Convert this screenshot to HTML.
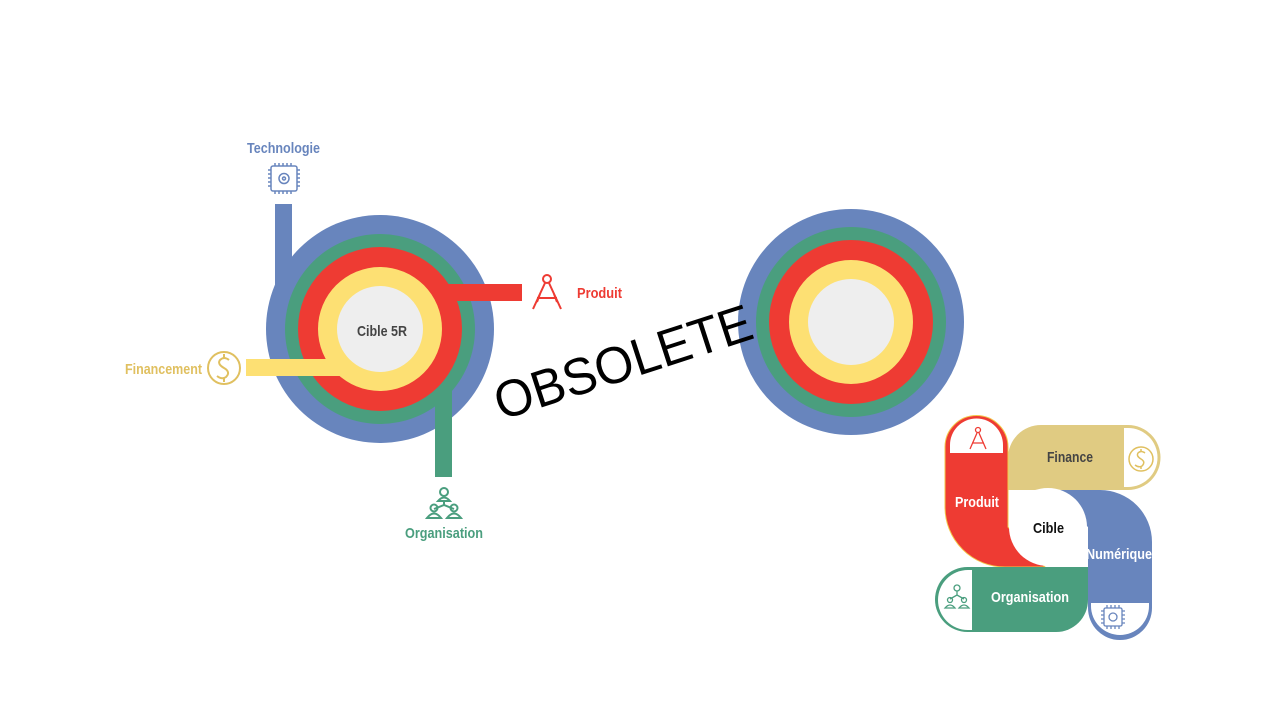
<!DOCTYPE html>
<html><head><meta charset="utf-8"><style>
html,body{margin:0;padding:0;background:#fff;}
svg{display:block;font-family:"Liberation Sans",sans-serif;}
.lbl{font-family:"Liberation Sans",sans-serif;font-weight:bold;font-size:15px;}
</style></head><body>
<svg width="1279" height="719" viewBox="0 0 1279 719">
<g>
  <circle cx="380" cy="329" r="114" fill="#6885bd"/>
  <rect x="275" y="204" width="17" height="90" fill="#6885bd"/>
  <circle cx="380" cy="329" r="95" fill="#4a9e7e"/>
  <rect x="435" y="380" width="17" height="97" fill="#4a9e7e"/>
  <circle cx="380" cy="329" r="82" fill="#ee3b33"/>
  <rect x="443" y="284" width="79" height="17" fill="#ee3b33"/>
  <circle cx="380" cy="329" r="62" fill="#fde073"/>
  <rect x="246" y="359" width="100" height="17" fill="#fde073"/>
  <circle cx="380" cy="329" r="43" fill="#eeeeee"/>
  <text x="357" y="336" textLength="50" lengthAdjust="spacingAndGlyphs" class="lbl" fill="#444">Cible 5R</text>

  <text x="247" y="153" textLength="73" lengthAdjust="spacingAndGlyphs" class="lbl" fill="#6885bd">Technologie</text>
  <g stroke="#6885bd" stroke-width="1.5" fill="none">
    <rect x="271" y="166" width="26" height="25" rx="2"/>
    <circle cx="284" cy="178.5" r="5"/><circle cx="284" cy="178.5" r="1.5"/>
    <path d="M275 163v3M279 163v3M283 163v3M287 163v3M291 163v3M275 191v3M279 191v3M283 191v3M287 191v3M291 191v3M268 170h3M268 174h3M268 178h3M268 182h3M268 186h3M297 170h3M297 174h3M297 178h3M297 182h3M297 186h3"/>
  </g>
  <g stroke="#ee3b33" stroke-width="2" fill="none">
    <circle cx="547" cy="279" r="4"/>
    <path d="M545 283l-12 26M549 283l12 26M537 298h20M540 294l-3 8M554 294l3 8"/>
  </g>
  <text x="577" y="298" textLength="45" lengthAdjust="spacingAndGlyphs" class="lbl" fill="#ee3b33">Produit</text>
  <text x="125" y="374" textLength="77" lengthAdjust="spacingAndGlyphs" class="lbl" fill="#e0c060">Financement</text>
  <g stroke="#e0c060" stroke-width="2" fill="none">
    <circle cx="224" cy="368" r="16"/>
    <path d="M229 360q-5-4-9 0q-3 4 4 8q7 4 2 9q-4 3-9-1M224 354v4M224 378v4"/>
  </g>
  <g stroke="#4a9e7e" stroke-width="2" fill="none">
    <circle cx="444" cy="492" r="4"/>
    <path d="M438 501q6-7 12 0zM444 501v4M434 509l10-4l10 4"/>
    <circle cx="434" cy="508" r="3.5"/><circle cx="454" cy="508" r="3.5"/>
    <path d="M427 518q7-9 14 0zM447 518q7-9 14 0z"/>
  </g>
  <text x="405" y="538" textLength="78" lengthAdjust="spacingAndGlyphs" class="lbl" fill="#4a9e7e">Organisation</text>
</g>

<g>
  <circle cx="851" cy="322" r="113" fill="#6885bd"/>
  <circle cx="851" cy="322" r="95" fill="#4a9e7e"/>
  <circle cx="851" cy="322" r="82" fill="#ee3b33"/>
  <circle cx="851" cy="322" r="62" fill="#fde073"/>
  <circle cx="851" cy="322" r="43" fill="#eeeeee"/>
</g>

<text x="623" y="380" text-anchor="middle" font-size="52" fill="#000" transform="rotate(-18 623 362)" textLength="268" lengthAdjust="spacingAndGlyphs">OBSOLETE</text>

<g>
  <path d="M1008 490 V458 A33 33 0 0 1 1041 425 H1128 A32.5 32.5 0 0 1 1128 490 Z" fill="#e0cb82"/>
  <path d="M1045 490 H1100 A52 52 0 0 1 1152 542 V608 A32 32 0 0 1 1088 608 V527 Z" fill="#6885bd"/>
  <path d="M945 447 A31.5 31.5 0 0 1 1008 447 V527 L1045 567 H1005 A60 60 0 0 1 945 507 Z" fill="#ee3b33" stroke="#f3c84a" stroke-width="1"/>
  <path d="M1088 567 V600 A32 32 0 0 1 1056 632 H967.5 A32.5 32.5 0 0 1 967.5 567 Z" fill="#4a9e7e"/>
  <path d="M950 453 V445 A26.5 26.5 0 0 1 1003 445 V453 Z" fill="#fff"/>
  <path d="M1124 428 H1128 A29.5 29.5 0 0 1 1128 487 H1124 Z" fill="#fff"/>
  <path d="M972 570 H968 A30 30 0 0 0 968 630 H972 Z" fill="#fff"/>
  <path d="M1091 603 H1149 V606 A29 29 0 0 1 1091 606 Z" fill="#fff"/>
  <circle cx="1048" cy="527" r="39" fill="#fff"/>
  <text x="1033" y="533" textLength="31" lengthAdjust="spacingAndGlyphs" class="lbl" fill="#111">Cible</text>
  <text x="1047" y="462" textLength="46" lengthAdjust="spacingAndGlyphs" class="lbl" fill="#444">Finance</text>
  <text x="955" y="507" textLength="44" lengthAdjust="spacingAndGlyphs" class="lbl" fill="#fff">Produit</text>
  <text x="1086" y="559" textLength="66" lengthAdjust="spacingAndGlyphs" class="lbl" fill="#fff">Numérique</text>
  <text x="991" y="602" textLength="78" lengthAdjust="spacingAndGlyphs" class="lbl" fill="#fff">Organisation</text>
  <g stroke="#ee3b33" stroke-width="1.3" fill="none">
    <circle cx="978" cy="430" r="2.5"/><path d="M977 433l-7 16M979 433l7 16M972 443h12"/>
  </g>
  <g stroke="#e0c060" stroke-width="1.5" fill="none">
    <circle cx="1141" cy="459" r="12"/><path d="M1145 453q-4-3-7 0q-2 3 3 6q5 3 1 7q-3 2-7-1M1141 449v3M1141 466v3"/>
  </g>
  <g stroke="#4a9e7e" stroke-width="1.3" fill="none">
    <circle cx="957" cy="588" r="3"/><path d="M957 591v4M950 599l7-4l7 4"/><circle cx="950" cy="600" r="2.5"/><circle cx="964" cy="600" r="2.5"/><path d="M945 608q5-6 10 0zM959 608q5-6 10 0z"/>
  </g>
  <g stroke="#6885bd" stroke-width="1.3" fill="none">
    <rect x="1104" y="608" width="18" height="18" rx="1.5"/><circle cx="1113" cy="617" r="4"/>
    <path d="M1107 605v3M1111 605v3M1115 605v3M1119 605v3M1107 626v3M1111 626v3M1115 626v3M1119 626v3M1101 611h3M1101 615h3M1101 619h3M1101 623h3M1122 611h3M1122 615h3M1122 619h3M1122 623h3"/>
  </g>
</g>
</svg>
</body></html>
